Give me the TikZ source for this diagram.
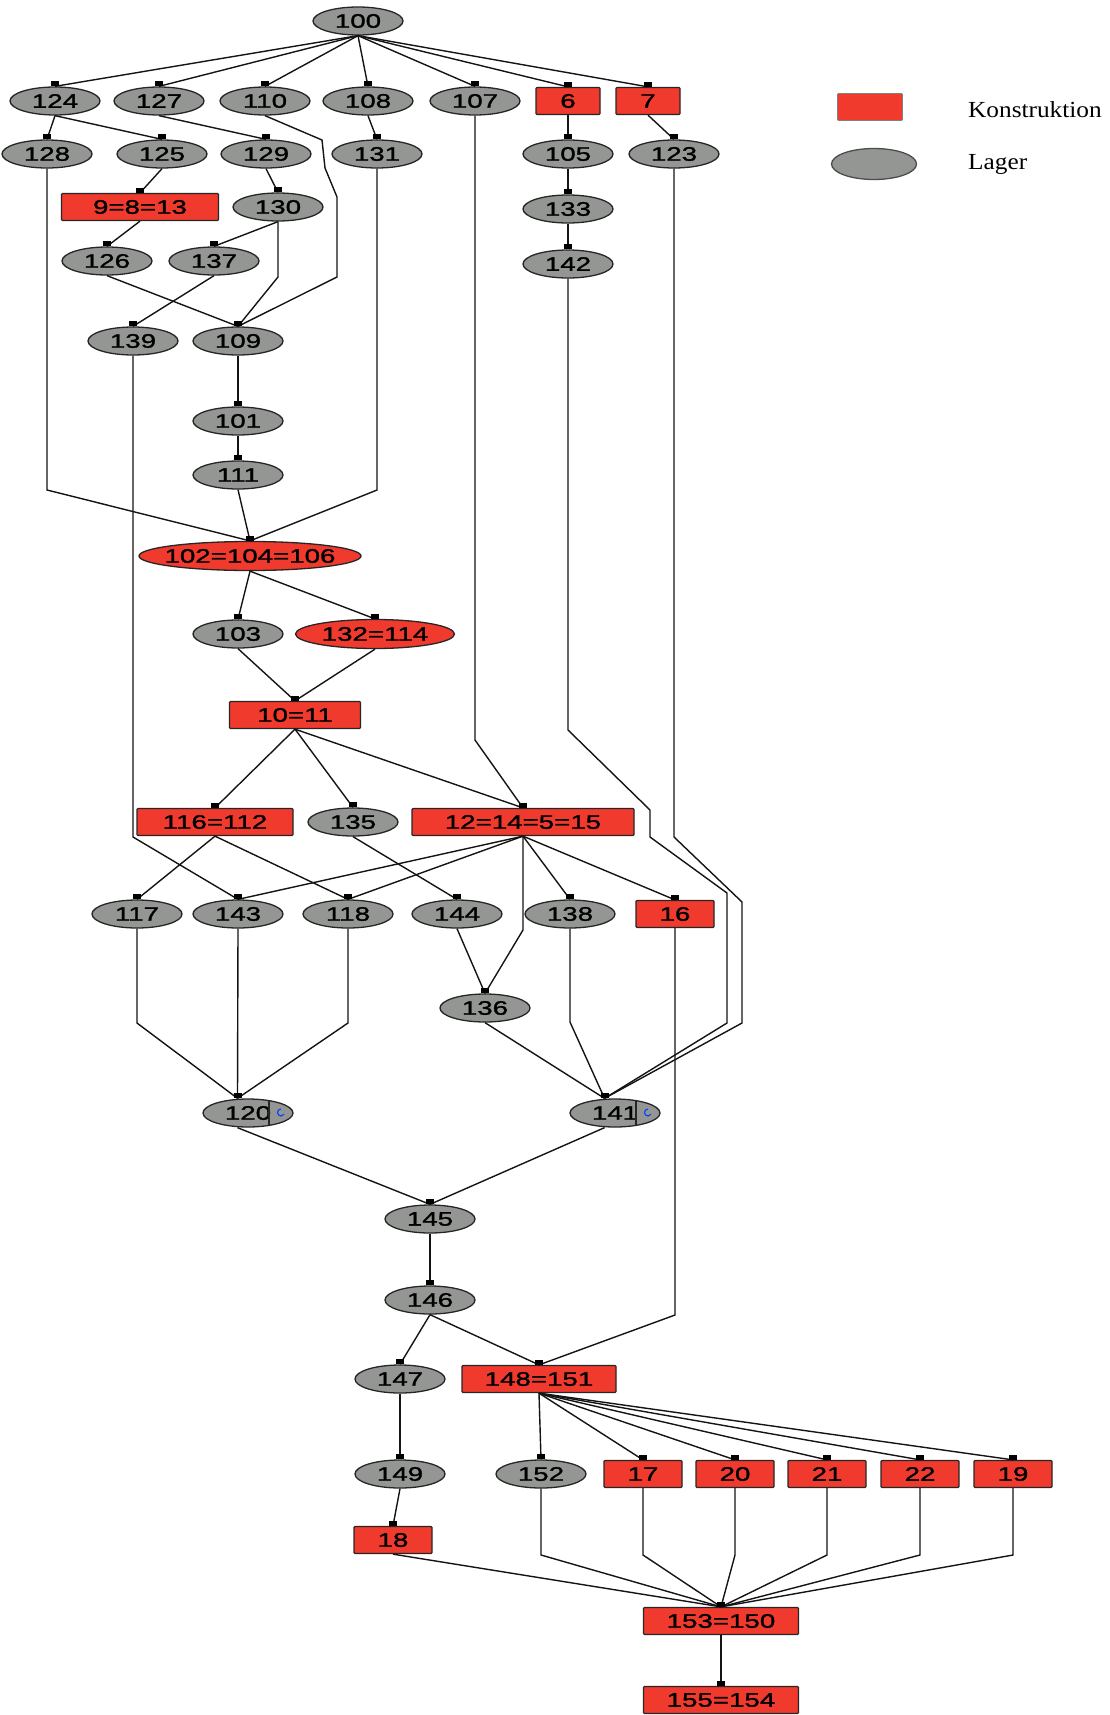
\documentclass[tikz,border=0pt]{standalone}
\usepackage{fontspec}
\setmainfont{Liberation Sans}
\newfontfamily\nodefont[FakeStretch=1.42,FakeBold=1.5]{Liberation Sans}
\newfontfamily\legendfont[FakeStretch=1.1]{Liberation Serif}
\usetikzlibrary{calc,shapes.geometric}
\definecolor{lagergray}{RGB}{148,150,148}
\definecolor{konred}{RGB}{240,58,46}
\definecolor{edgeblack}{RGB}{20,20,20}
\begin{document}
\begin{tikzpicture}[x=1pt,y=-1pt,
  base/.style={draw=black!85, line width=1.3pt, font=\nodefont\fontsize{19.5pt}{21pt}\selectfont, inner sep=0pt, text=black},
  lager/.style={base, ellipse, fill=lagergray, minimum width=90pt, minimum height=28pt},
  redell/.style={base, ellipse, fill=konred, minimum height=29pt},
  konst/.style={base, rectangle, fill=konred, minimum height=27pt, rounded corners=1pt},
  edge/.style={draw=edgeblack, line width=1.4pt},
  port/.style={fill=black},
  legtext/.style={anchor=base west, inner sep=0pt, font=\legendfont\fontsize{23pt}{26pt}\selectfont}
]
\useasboundingbox (0,0) rectangle (1109,1715);

% ---------- nodes ----------
\node[lager] (n100) at (358,21) {100};

\node[lager] (n124) at (55,101) {124};
\node[lager] (n127) at (159,101) {127};
\node[lager] (n110) at (265,101) {110};
\node[lager] (n108) at (368,101) {108};
\node[lager] (n107) at (475,101) {107};
\node[konst, minimum width=64pt] (n6) at (568,101) {6};
\node[konst, minimum width=64pt] (n7) at (648,101) {7};

\node[lager] (n128) at (47,154) {128};
\node[lager] (n125) at (162,154) {125};
\node[lager] (n129) at (266,154) {129};
\node[lager] (n131) at (377,154) {131};
\node[lager] (n105) at (568,154) {105};
\node[lager] (n123) at (674,154) {123};

\node[konst, minimum width=157pt] (n9) at (140,207) {9=8=13};
\node[lager] (n130) at (278,207) {130};
\node[lager] (n133) at (568,209) {133};

\node[lager] (n126) at (107,261) {126};
\node[lager] (n137) at (214,261) {137};
\node[lager] (n142) at (568,264) {142};

\node[lager] (n139) at (133,341) {139};
\node[lager] (n109) at (238,341) {109};
\node[lager] (n101) at (238,421) {101};
\node[lager] (n111) at (238,475) {111};

\node[redell, minimum width=222pt] (n102) at (250,556) {\makebox[0pt]{102=104=106}};
\node[lager] (n103) at (238,634) {103};
\node[redell, minimum width=159pt] (n132) at (375,634) {\makebox[0pt]{132=114}};
\node[konst, minimum width=131pt] (n10) at (295,715) {10=11};

\node[konst, minimum width=156pt] (n116) at (215,822) {116=112};
\node[lager] (n135) at (353,822) {135};
\node[konst, minimum width=222pt] (n12) at (523,822) {12=14=5=15};

\node[lager] (n117) at (137,914) {117};
\node[lager] (n143) at (238,914) {143};
\node[lager] (n118) at (348,914) {118};
\node[lager] (n144) at (457,914) {144};
\node[lager] (n138) at (570,914) {138};
\node[konst, minimum width=78pt] (n16) at (675,914) {16};

\node[lager] (n136) at (485,1008) {136};

\node[lager] (n120) at (248,1113) {120\hspace{21pt}};
\node[lager] (n141) at (615,1113) {141\hspace{21pt}};
\coordinate (t120) at ($(n120.north)+(-10.5,0)$);
\coordinate (b120) at ($(n120.south)+(-10.5,0)$);
\coordinate (t141) at ($(n141.north)+(-10.5,0)$);
\coordinate (b141) at ($(n141.south)+(-10.5,0)$);
\foreach \n in {n120,n141}{
  \draw[line width=1.3pt, black!85] ($(\n.center)+(21,-12.5)$) -- ($(\n.center)+(21,12.5)$);
  \draw[blue!75!cyan, line width=1.1pt] ($(\n.center)+(33,-4)$) arc[start angle=90, end angle=330, radius=3.5pt];
}

\node[lager] (n145) at (430,1219) {145};
\node[lager] (n146) at (430,1300) {146};
\node[lager] (n147) at (400,1379) {147};
\node[konst, minimum width=154pt] (n148) at (539,1379) {148=151};

\node[lager] (n149) at (400,1474) {149};
\node[lager] (n152) at (541,1474) {152};
\node[konst, minimum width=78pt] (n17) at (643,1474) {17};
\node[konst, minimum width=78pt] (n20) at (735,1474) {20};
\node[konst, minimum width=78pt] (n21) at (827,1474) {21};
\node[konst, minimum width=78pt] (n22) at (920,1474) {22};
\node[konst, minimum width=78pt] (n19) at (1013,1474) {19};

\node[konst, minimum width=78pt] (n18) at (393,1540) {18};
\node[konst, minimum width=155pt] (n153) at (721,1621) {153=150};
\node[konst, minimum width=155pt] (n155) at (721,1700) {155=154};

% ---------- legend ----------
\node[konst, draw=gray, line width=0.8pt, minimum width=65pt, minimum height=27pt] (legk) at (870,107) {};
\node[lager, draw=black!70, minimum width=85pt, minimum height=31pt] (legl) at (874,164) {};
\node[legtext] (legkt) at (968,118) {Konstruktion};
\node[legtext] (leglt) at (968,170) {Lager};

% ---------- connectors ----------
\foreach \t in {n124,n127,n110,n108,n107,n6,n7}
  \draw[edge] (n100.south) -- (\t.north);
\draw[edge] (n124.south) -- (n128.north);
\draw[edge] (n124.south) -- (n125.north);
\draw[edge] (n127.south) -- (n129.north);
\draw[edge] (n108.south) -- (n131.north);
\draw[edge] (n6.south) -- (n105.north);
\draw[edge] (n7.south) -- (n123.north);
\draw[edge] (n125.south) -- (n9.north);
\draw[edge] (n129.south) -- (n130.north);
\draw[edge] (n105.south) -- (n133.north);
\draw[edge] (n9.south) -- (n126.north);
\draw[edge] (n130.south) -- (n137.north);
\draw[edge] (n130.south) -- (278,277) -- (n109.north);
\draw[edge] (n133.south) -- (n142.north);
\draw[edge] (n126.south) -- (n109.north);
\draw[edge] (n137.south) -- (n139.north);
\draw[edge] (n110.south) -- (322,140) -- (325,168) -- (337,197) -- (337,277) -- (n109.north);
\draw[edge] (n109.south) -- (n101.north);
\draw[edge] (n101.south) -- (n111.north);
\draw[edge] (n111.south) -- (n102.north);
\draw[edge] (n128.south) -- (47,490) -- (n102.north);
\draw[edge] (n131.south) -- (377,490) -- (n102.north);
\draw[edge] (n102.south) -- (n103.north);
\draw[edge] (n102.south) -- (n132.north);
\draw[edge] (n103.south) -- (n10.north);
\draw[edge] (n132.south) -- (n10.north);
\draw[edge] (n10.south) -- (n116.north);
\draw[edge] (n10.south) -- (n135.north);
\draw[edge] (n10.south) -- (n12.north);
\draw[edge] (n107.south) -- (475,740) -- (n12.north);
\draw[edge] (n139.south) -- (133,837) -- (n143.north);
\draw[edge] (n142.south) -- (568,730) -- (650,810) -- (650,837) -- (727,893) -- (727,1023) -- (t141);
\draw[edge] (n123.south) -- (674,837) -- (742,902) -- (742,1023) -- (t141);
\draw[edge] (n116.south) -- (n117.north);
\draw[edge] (n116.south) -- (n118.north);
\draw[edge] (n135.south) -- (n144.north);
\draw[edge] (n12.south) -- (n143.north);
\draw[edge] (n12.south) -- (n118.north);
\draw[edge] (n12.south) -- (n138.north);
\draw[edge] (n12.south) -- (n16.north);
\draw[edge] (n12.south) -- (523,930) -- (n136.north);
\draw[edge] (n144.south) -- (n136.north);
\draw[edge] (n117.south) -- (137,1023) -- (t120);
\draw[edge] (n143.south) -- (t120);
\draw[edge] (n118.south) -- (348,1023) -- (t120);
\draw[edge] (n136.south) -- (t141);
\draw[edge] (n138.south) -- (570,1022) -- (t141);
\draw[edge] (b120) -- (n145.north);
\draw[edge] (b141) -- (n145.north);
\draw[edge] (n145.south) -- (n146.north);
\draw[edge] (n146.south) -- (n147.north);
\draw[edge] (n146.south) -- (n148.north);
\draw[edge] (n16.south) -- (675,1315) -- (n148.north);
\draw[edge] (n147.south) -- (n149.north);
\draw[edge] (n149.south) -- (n18.north);
\foreach \t in {n152,n17,n20,n21,n22,n19}
  \draw[edge] (n148.south) -- (\t.north);
\foreach \t in {n152,n17,n20,n21,n22,n19}
  \draw[edge] (\t.south) -- (\t.south |- 0,1555) -- (n153.north);
\draw[edge] (n18.south) -- (n153.north);
\draw[edge] (n153.south) -- (n155.north);

% ---------- ports ----------
\foreach \n in {n124,n127,n110,n108,n107,n6,n7,n128,n125,n129,n131,n105,n123,
  n9,n130,n133,n126,n137,n142,n139,n109,n101,n111,n102,n103,n132,n10,
  n116,n135,n12,n117,n143,n118,n144,n138,n16,n136,n145,n146,n147,n148,
  n149,n152,n17,n20,n21,n22,n19,n18,n153,n155,t120,t141}
  \fill[port] ($(\n.north)+(-4,-5)$) rectangle ($(\n.north)+(4,0)$);
\end{tikzpicture}
\end{document}
